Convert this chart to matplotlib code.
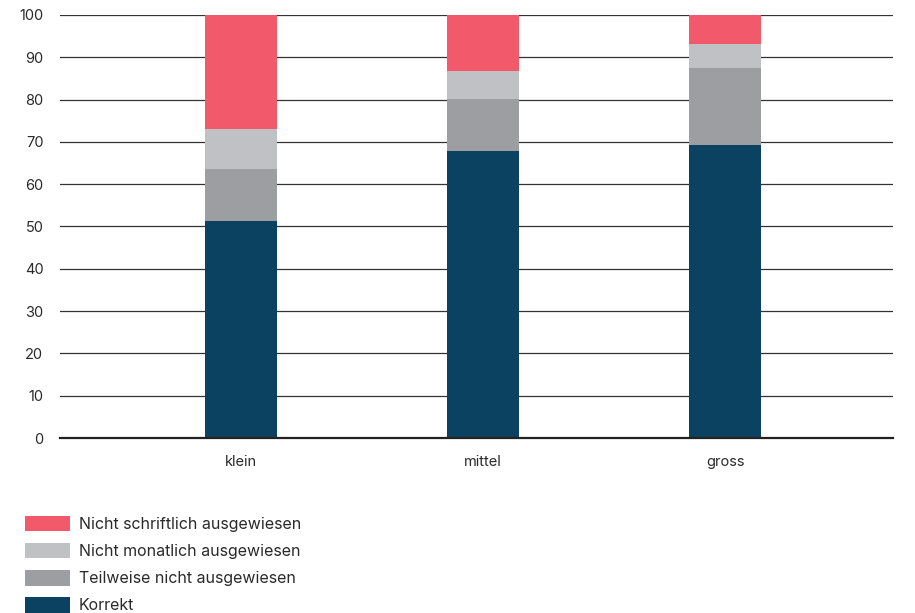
import matplotlib.pyplot as plt
import numpy as np

plt.rcParams['font.family'] = ['Inter', 'DejaVu Sans']

# Data (cumulative tops converted to segment sizes)
categories = ['klein', 'mittel', 'gross']
korrekt = [51.4, 67.9, 69.2]
teilweise = [12.1, 12.3, 18.2]
monatlich = [9.6, 6.6, 5.7]
schriftlich = [26.9, 13.2, 6.9]

series = [
    ('Korrekt', korrekt, '#0b4261'),
    ('Teilweise nicht ausgewiesen', teilweise, '#9d9ea2'),
    ('Nicht monatlich ausgewiesen', monatlich, '#c0c1c5'),
    ('Nicht schriftlich ausgewiesen', schriftlich, '#f25a6b'),
]

fig = plt.figure(figsize=(9.15, 6.13), dpi=100)
ax = fig.add_axes([60 / 915, 1 - 438 / 613, (893 - 60) / 915, (438 - 15) / 613])

x = np.arange(len(categories))
bottom = np.zeros(len(categories))
handles = []
for label, vals, color in series:
    b = ax.bar(x, vals, width=0.30, bottom=bottom, color=color, label=label, zorder=3)
    handles.append(b)
    bottom += np.array(vals)

ax.set_ylim(0, 100)
ax.set_xlim(-0.748, 2.694)
ax.set_yticks(range(0, 101, 10))
ax.set_xticks(x)
ax.set_xticklabels(categories)
ax.grid(axis='y', color='#333333', linewidth=0.9, zorder=0)
ax.tick_params(axis='both', length=0, labelsize=10.5, labelcolor='#2a2a2a')
ax.tick_params(axis='y', pad=12)
ax.tick_params(axis='x', pad=12)
for s in ['top', 'right', 'left']:
    ax.spines[s].set_visible(False)
ax.spines['bottom'].set_color('#222222')
ax.spines['bottom'].set_linewidth(1.6)
ax.spines['bottom'].set_zorder(4)

fig.legend(handles[::-1], [s[0] for s in series][::-1],
           loc='upper left', bbox_to_anchor=(25 / 915, 1 - 516 / 613),
           frameon=False, fontsize=11.5, handlelength=2.8, handleheight=1.1,
           labelspacing=0.69, handletextpad=0.55, borderaxespad=0, borderpad=0,
           labelcolor='#2a2a2a')

fig.savefig('out.png', dpi=100)
